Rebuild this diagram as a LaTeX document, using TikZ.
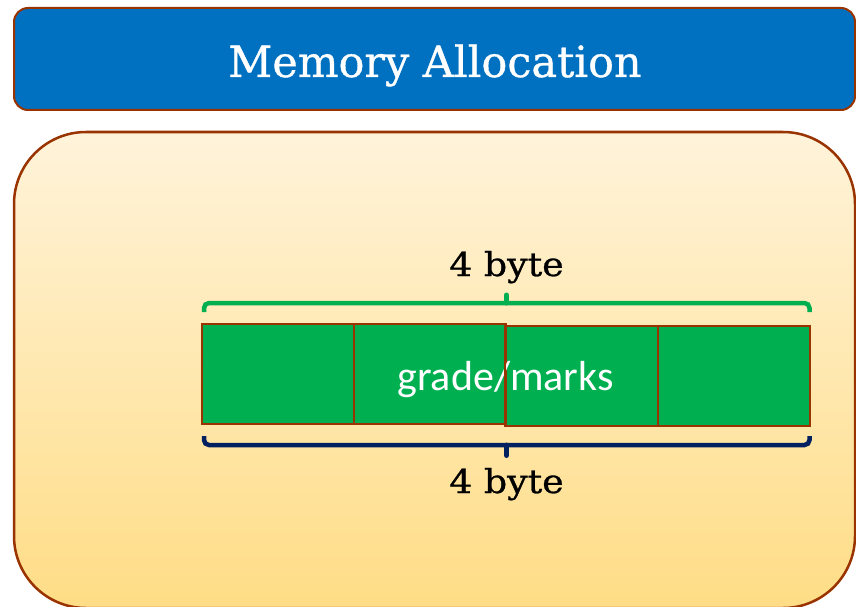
\documentclass[tikz,border=0pt]{standalone}
\usepackage{fontspec}
\setmainfont{DejaVu Serif}
\newfontfamily\slabfont[FakeBold=0.8]{DejaVu Serif}
\newfontfamily\cellfont{Carlito}
\definecolor{titleblue}{HTML}{0070C0}
\definecolor{brownedge}{HTML}{993300}
\definecolor{cellgreen}{HTML}{00B050}
\definecolor{navyblue}{HTML}{002060}
\definecolor{paletop}{HTML}{FFF3DA}
\definecolor{palebot}{HTML}{FFDD86}
\tikzset{
  cellbox/.style={draw=brownedge, fill=cellgreen, line width=2pt, minimum width=152pt, minimum height=100pt, inner sep=0pt},
  bracebar/.style={line width=4.5pt, rounded corners=5pt},
  bracetip/.style={line width=5pt, line cap=round},
  bytelabel/.style={anchor=base, inner sep=0pt, xscale=1.1, transform shape, font=\slabfont\fontsize{33}{36}\selectfont},
}
\begin{document}
\begin{tikzpicture}[x=1pt,y=-1pt]
\useasboundingbox (0,0) rectangle (856,607);
% container
\node (panel) [draw=brownedge, line width=2.5pt, top color=paletop, bottom color=palebot, rounded corners=72pt, minimum width=841pt, minimum height=476pt, inner sep=0pt] at (434.5,370) {};
% title
\node (title) [draw=brownedge, fill=titleblue, line width=2pt, rounded corners=14pt, minimum width=841pt, minimum height=102pt, inner sep=0pt] at (434.5,59) {};
\node (titletext) [anchor=base, text=white, inner sep=0pt, font=\slabfont\fontsize{43}{47}\selectfont] at (435,77) {Memory Allocation};
% cells
\node (c1) [cellbox] at (278,374) {};
\node (c2) [cellbox] at (430,374) {};
\node (c3) [cellbox] at (582,375.5) {};
\node (c4) [cellbox] at (734,375.5) {};
\node (var) [anchor=base, text=white, inner sep=0pt, font=\cellfont\fontsize{42}{46}\selectfont] at (505.5,390) {grade/marks};
\draw[brownedge, line width=2pt] (c3.north west) -- (c3.south west);
% braces
\draw[bracebar, cellgreen] (204,312) -- (204,303) -- (809.5,303) -- (809.5,312);
\draw[bracetip, cellgreen] (506.5,303) -- (506.5,295);
\draw[bracebar, navyblue] (204,436) -- (204,445) -- (809.5,445) -- (809.5,436);
\draw[bracetip, navyblue] (506.5,445) -- (506.5,455.5);
% labels
\node (toplabel) [bytelabel] at (506.5,276) {4 byte};
\node (botlabel) [bytelabel] at (506.5,493) {4 byte};
\end{tikzpicture}
\end{document}
